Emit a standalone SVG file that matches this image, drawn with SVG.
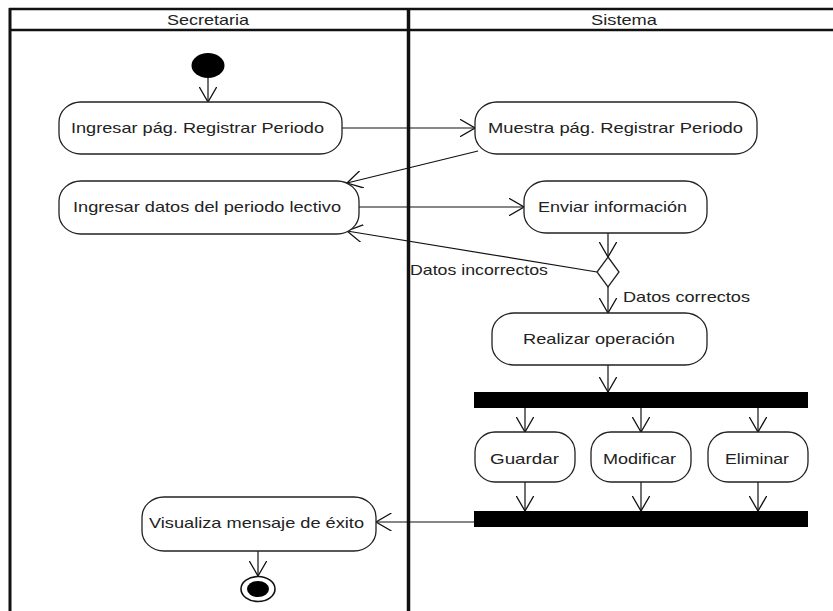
<svg xmlns="http://www.w3.org/2000/svg" width="833" height="611" viewBox="0 0 833 611">
  <style>
    .lane { stroke: #111; fill: none; }
    .act { fill: #fff; stroke: #222; stroke-width: 1.3; }
    .lbl { font-family: "Liberation Sans", Arial, sans-serif; font-size: 15px; fill: #222; }
    .edge { stroke: #111; stroke-width: 1.2; fill: none; marker-end: url(#open); }
    .bar { fill: #000; }
  </style>
  <defs>
    <marker id="open" viewBox="0 0 16 18" refX="15.5" refY="9" markerWidth="16" markerHeight="18" markerUnits="userSpaceOnUse" orient="auto">
      <path d="M0,0 L15.5,9 L0,18" fill="none" stroke="#111" stroke-width="1.3"/>
    </marker>
  </defs>

  <rect width="833" height="611" fill="#fff"/>

  <!-- swimlanes -->
  <g id="lanes">
    <line class="lane" x1="9" y1="9" x2="833" y2="9" stroke-width="2.5"/>
    <line class="lane" x1="9" y1="30" x2="833" y2="30" stroke-width="2.5"/>
    <line class="lane" x1="10" y1="8" x2="10" y2="611" stroke-width="3"/>
    <line class="lane" x1="408.5" y1="8" x2="408.5" y2="611" stroke-width="3.5"/>
    <text class="lbl" x="167" y="25" textLength="82" lengthAdjust="spacingAndGlyphs">Secretaria</text>
    <text class="lbl" x="591" y="25" textLength="66" lengthAdjust="spacingAndGlyphs">Sistema</text>
  </g>

  <!-- connectors -->
  <g id="connectors">
    <line class="edge" x1="208" y1="78" x2="208" y2="102"/>
    <line class="edge" x1="342" y1="128" x2="475" y2="128"/>
    <line class="edge" x1="478" y1="151" x2="347" y2="183"/>
    <line class="edge" x1="359" y1="207" x2="524" y2="207"/>
    <line class="edge" x1="608" y1="233" x2="608" y2="257"/>
    <line class="edge" x1="597" y1="272" x2="347" y2="231"/>
    <line class="edge" x1="608" y1="287" x2="608" y2="313"/>
    <line class="edge" x1="608" y1="365" x2="608" y2="392"/>
    <line class="edge" x1="525" y1="408" x2="525" y2="432"/>
    <line class="edge" x1="641" y1="408" x2="641" y2="432"/>
    <line class="edge" x1="758" y1="408" x2="758" y2="432"/>
    <line class="edge" x1="525" y1="482" x2="525" y2="511"/>
    <line class="edge" x1="641" y1="482" x2="641" y2="511"/>
    <line class="edge" x1="758" y1="482" x2="758" y2="511"/>
    <line class="edge" x1="474" y1="522" x2="376" y2="522"/>
    <line class="edge" x1="258" y1="551" x2="258" y2="576"/>
    <text class="lbl" x="410" y="275" textLength="138" lengthAdjust="spacingAndGlyphs">Datos incorrectos</text>
    <text class="lbl" x="623" y="302" textLength="127" lengthAdjust="spacingAndGlyphs">Datos correctos</text>
  </g>

  <!-- nodes -->
  <g id="start">
    <ellipse cx="208" cy="65.5" rx="16.5" ry="12.5" fill="#000"/>
  </g>
  <g id="ingresar-pag">
    <rect class="act" x="59" y="102" width="283" height="52" rx="22" ry="20"/>
    <text class="lbl" x="71" y="133" textLength="253" lengthAdjust="spacingAndGlyphs">Ingresar pág. Registrar Periodo</text>
  </g>
  <g id="muestra-pag">
    <rect class="act" x="475" y="102" width="282" height="52" rx="22" ry="20"/>
    <text class="lbl" x="488" y="133" textLength="255" lengthAdjust="spacingAndGlyphs">Muestra pág. Registrar Periodo</text>
  </g>
  <g id="ingresar-datos">
    <rect class="act" x="59" y="181" width="300" height="53" rx="22" ry="20"/>
    <text class="lbl" x="73" y="212" textLength="268" lengthAdjust="spacingAndGlyphs">Ingresar datos del periodo lectivo</text>
  </g>
  <g id="enviar">
    <rect class="act" x="524" y="181" width="183" height="52" rx="22" ry="20"/>
    <text class="lbl" x="538" y="212" textLength="149" lengthAdjust="spacingAndGlyphs">Enviar información</text>
  </g>
  <g id="decision">
    <polygon class="act" points="608,257 619,272 608,287 597,272"/>
  </g>
  <g id="realizar">
    <rect class="act" x="492" y="313" width="215" height="52" rx="22" ry="20"/>
    <text class="lbl" x="523" y="344" textLength="152" lengthAdjust="spacingAndGlyphs">Realizar operación</text>
  </g>
  <g id="fork">
    <rect class="bar" x="474" y="392" width="334" height="16"/>
  </g>
  <g id="guardar">
    <rect class="act" x="475" y="432" width="100" height="50" rx="20" ry="20"/>
    <text class="lbl" x="490" y="464" textLength="69" lengthAdjust="spacingAndGlyphs">Guardar</text>
  </g>
  <g id="modificar">
    <rect class="act" x="591" y="432" width="100" height="50" rx="20" ry="20"/>
    <text class="lbl" x="603" y="464" textLength="73" lengthAdjust="spacingAndGlyphs">Modificar</text>
  </g>
  <g id="eliminar">
    <rect class="act" x="708" y="432" width="100" height="50" rx="20" ry="20"/>
    <text class="lbl" x="725" y="464" textLength="64" lengthAdjust="spacingAndGlyphs">Eliminar</text>
  </g>
  <g id="join">
    <rect class="bar" x="474" y="511" width="334" height="16"/>
  </g>
  <g id="visualiza">
    <rect class="act" x="142" y="497" width="234" height="54" rx="22" ry="20"/>
    <text class="lbl" x="149" y="528" textLength="215" lengthAdjust="spacingAndGlyphs">Visualiza mensaje de éxito</text>
  </g>
  <g id="end">
    <ellipse cx="258" cy="589" rx="17" ry="12.5" fill="#fff" stroke="#111" stroke-width="1.6"/>
    <ellipse cx="258" cy="589" rx="11" ry="8" fill="#000"/>
  </g>
</svg>
